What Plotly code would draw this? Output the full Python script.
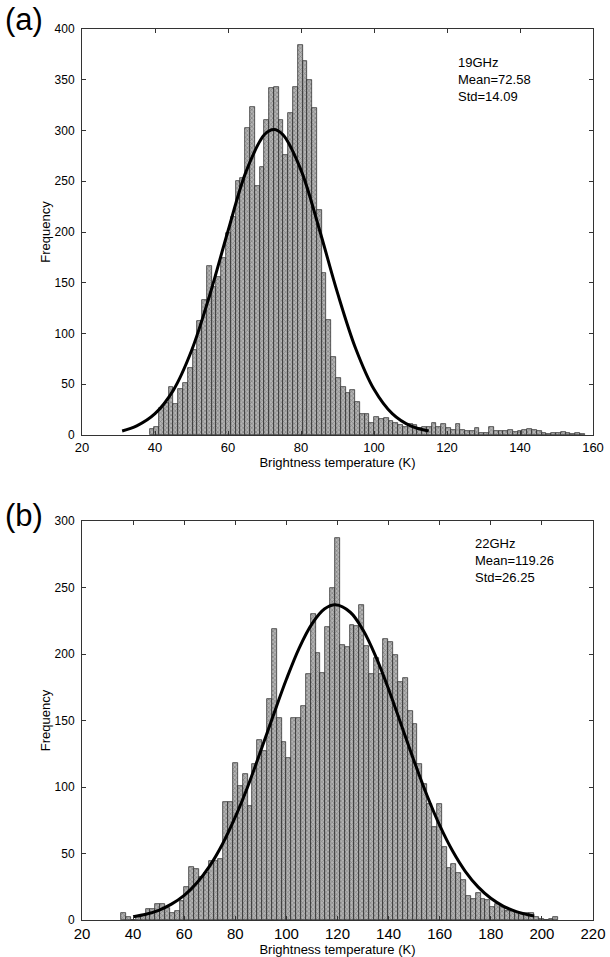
import numpy as np
import plotly.graph_objects as go

# --- panel (a) 19GHz histogram (counts) ---
counts_19 = [6, 8, 27, 32, 47, 31, 45, 51, 66, 84, 112, 133, 167, 146, 156, 174, 199, 215, 250, 253,
             302, 323, 245, 264, 310, 342, 343, 310, 276, 317, 343, 384, 368, 350, 322, 222, 160, 113,
             77, 56, 47, 41, 44, 33, 21, 21, 12, 18, 16, 17, 14, 12, 10, 8, 11, 10, 7, 8, 8, 12, 8,
             11, 7, 5, 11, 5, 4, 4, 7, 2, 2, 8, 4, 4, 4, 5, 3, 4, 5, 6, 5, 4, 2, 1, 2, 2, 3, 2, 1, 2, 1]
bin_start_19 = 38.5
bin_width_19 = 1.31
fit_x_19 = [31, 35, 40, 45, 50, 55, 60, 65, 70, 72.58, 75, 80, 85, 90, 95, 100, 105, 110, 115]
fit_y_19 = [4, 9, 21, 44, 83, 138, 201, 260, 296, 301, 296, 261, 203, 140, 85, 45, 21, 9, 4]

# --- panel (b) 22GHz histogram ---
counts_22 = [5, 2, 0, 2, 4, 8, 8, 12, 12, 9, 5, 7, 14, 25, 40, 38, 32, 35, 44, 44, 46, 89, 89, 118,
             101, 110, 86, 117, 135, 127, 166, 219, 152, 134, 122, 152, 152, 161, 185, 230, 201, 186,
             220, 250, 287, 207, 205, 222, 221, 237, 206, 185, 197, 185, 211, 209, 199, 179, 182, 157,
             147, 117, 102, 87, 70, 87, 55, 39, 42, 35, 30, 18, 16, 20, 16, 15, 10, 12, 10, 7, 7, 6,
             5, 5, 5, 2, 1, 0, 1, 2]
bin_start_22 = 35.4
bin_width_22 = 1.9
fit_x_22 = [40, 45, 50, 55, 60, 65, 70, 75, 80, 85, 90, 95, 100, 105, 110, 115, 119.26, 125, 130,
            135, 140, 145, 150, 155, 160, 165, 170, 175, 180, 185, 190, 195, 197]
fit_y_22 = [2.5, 4.3, 7.3, 11.9, 18.5, 28, 40.7, 57.2, 77.5, 101, 127.4, 154.6, 181, 204.5, 222.7,
            234, 237, 231.4, 218, 198, 173.5, 146.5, 119.4, 93.8, 71.1, 52, 36.6, 24.9, 16.3, 10.3,
            6.3, 3.7, 2.95]

info_19 = "19GHz<br>Mean=72.58<br>Std=14.09"
info_22 = "22GHz<br>Mean=119.26<br>Std=26.25"

FONT = "Liberation Sans, Arial, sans-serif"


def bin_centers(start, width, n):
    return start + width * (np.arange(n) + 0.5)


def hist_bar(counts, start, width, xa, ya):
    return go.Bar(
        x=bin_centers(start, width, len(counts)), y=counts, width=width,
        marker=dict(color="#a6a6a6", line=dict(color="#1e1e1e", width=0.7),
                    pattern=dict(shape="x", size=3, solidity=0.4, fgcolor="#4a4a4a", bgcolor="#b4b4b4")),
        xaxis=xa, yaxis=ya, showlegend=False,
    )


def fit_line(xs, ys, xa, ya):
    return go.Scatter(x=xs, y=ys, mode="lines", line=dict(color="black", width=3, shape="spline"),
                      xaxis=xa, yaxis=ya, showlegend=False)


fig = go.Figure()
fig.add_trace(hist_bar(counts_19, bin_start_19, bin_width_19, "x", "y"))
fig.add_trace(fit_line(fit_x_19, fit_y_19, "x", "y"))
fig.add_trace(hist_bar(counts_22, bin_start_22, bin_width_22, "x2", "y2"))
fig.add_trace(fit_line(fit_x_22, fit_y_22, "x2", "y2"))

axis_style = dict(showline=True, linecolor="#333333", linewidth=1, mirror="ticks", ticks="inside",
                  ticklen=4, tickcolor="#333333", showgrid=False, zeroline=False, automargin=False,
                  tickfont=dict(family=FONT, size=12, color="black"))
y_style = {**axis_style, "ticklabelstandoff": 4}

fig.update_layout(
    width=610, height=957,
    margin=dict(l=82, r=17, t=29, b=37),
    paper_bgcolor="white", plot_bgcolor="white",
    bargap=0,
    font=dict(family=FONT, color="black"),
    xaxis=dict(domain=[0, 1], range=[20, 160], tickvals=list(range(20, 161, 20)), anchor="y",
               title=dict(text="Brightness temperature (K)", font=dict(size=13), standoff=2),
               **{**axis_style, "tickfont": dict(family=FONT, size=13, color="black")}),
    yaxis=dict(domain=[0.5443, 1], range=[0, 400], tickvals=list(range(0, 401, 50)), anchor="x",
               title=dict(text="Frequency", font=dict(size=13), standoff=1), **y_style),
    xaxis2=dict(domain=[0, 1], range=[20, 220], tickvals=list(range(20, 221, 20)), anchor="y2",
                title=dict(text="Brightness temperature (K)", font=dict(size=13), standoff=2),
                **{**axis_style, "tickfont": dict(family=FONT, size=15, color="black")}),
    yaxis2=dict(domain=[0, 0.4478], range=[0, 300], tickvals=list(range(0, 301, 50)), anchor="x2",
                title=dict(text="Frequency", font=dict(size=13), standoff=1), **y_style),
)

fig.add_annotation(text=info_19, xref="x", yref="y", x=122.5, y=376, xanchor="left", yanchor="top",
                   showarrow=False, align="left", font=dict(family=FONT, size=13))
fig.add_annotation(text=info_22, xref="x2", yref="y2", x=173, y=290, xanchor="left", yanchor="top",
                   showarrow=False, align="left", font=dict(family=FONT, size=13))
fig.add_annotation(text="(a)", xref="paper", yref="paper", x=-0.155, y=1.011, xanchor="left",
                   yanchor="middle", showarrow=False, font=dict(family=FONT, size=31))
fig.add_annotation(text="(b)", xref="paper", yref="paper", x=-0.155, y=0.4545, xanchor="left",
                   yanchor="middle", showarrow=False, font=dict(family=FONT, size=31))

# page body has a default 8px margin; drop it so the figure sits at the window corner
fig.write_html("out.html", config={"displayModeBar": False},
               post_script="document.body.style.margin='0px';")
